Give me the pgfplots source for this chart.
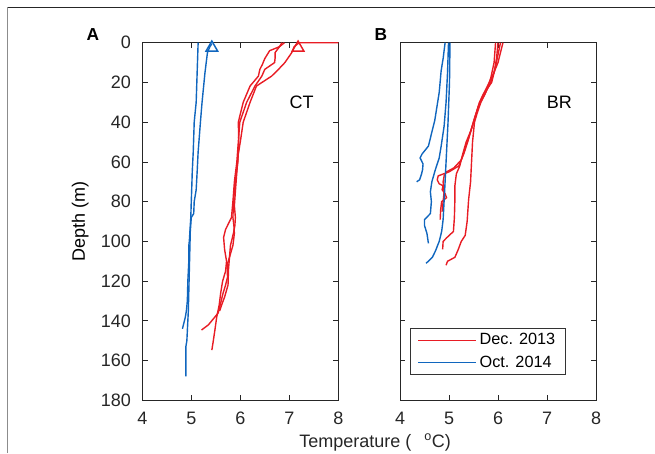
\documentclass[border=0pt]{standalone}
\usepackage{pgfplots}
\pgfplotsset{compat=1.18}
\usepackage{fontspec}
\setmainfont{Liberation Sans}
\setsansfont{Liberation Sans}
\definecolor{pred}{RGB}{232,28,36}
\definecolor{pblue}{RGB}{16,102,190}
\pgfplotsset{myax/.style={
  scale only axis, width=147pt, height=268.2pt,
  xmin=4, xmax=8, ymin=0, ymax=180, y dir=reverse,
  xtick={4,5,6,7,8}, ytick={0,20,...,180},
  xtick pos=both, ytick pos=both, ticklabel pos=left,
  tick align=inside, major tick length=4pt,
  axis line style={black!85, line width=0.6pt},
  every tick/.style={black!85, line width=0.6pt},
  tick label style={font=\fontsize{13.5}{16}\selectfont, text=black!85},
  /pgf/number format/assume math mode=true,
  xticklabel style={yshift=-5.5pt},
  yticklabel style={xshift=-5pt},
  clip mode=individual,
  every axis plot/.append style={line width=1.05pt},
}}
\begin{document}
\begin{tikzpicture}
\path[use as bounding box] (0,0) rectangle (491.25pt,339.75pt);
\draw[black!85, line width=0.7pt] (5.8pt,334.3pt) -- (491.25pt,334.3pt);
\draw[black!45, line width=0.8pt] (5.8pt,0pt) -- (5.8pt,334.3pt);
% Panel A
\begin{axis}[myax, at={(106.7pt,39.5pt)}, anchor=south west]
\addplot[pblue] coordinates {(5.42,0.5) (5.38,2) (5.33,5) (5.28,15) (5.22,30) (5.19,39) (5.14,55) (5.12,65) (5.10,74) (5.06,80) (5.05,86) (5.0,88) (4.98,95) (4.97,105) (4.96,115) (4.95,125) (4.94,135) (4.93,140) (4.91,150) (4.89,153) (4.89,160) (4.89,168)};
\addplot[pblue] coordinates {(5.14,0) (5.12,15) (5.10,30) (5.06,40) (5.04,55) (5.02,65) (5.01,73) (5.0,80) (4.99,88) (4.98,92) (4.96,100) (4.95,102) (4.95,110) (4.93,120) (4.92,130) (4.90,135) (4.88,138) (4.85,141) (4.82,144)};
\addplot[pred] coordinates {(8,0) (7.2,0) (7.1,2) (7.05,5) (6.91,10) (6.78,13.4) (6.64,16.8) (6.33,21.8) (6.2,30) (6.06,40) (6.0,50) (5.96,56) (5.93,65) (5.9,75) (5.88,82) (5.9,88) (5.89,92) (5.86,96) (5.8,102) (5.78,108) (5.73,112) (5.74,118) (5.7,122) (5.65,126) (5.6,131) (5.55,136) (5.45,139) (5.35,142) (5.21,144.6)};
\addplot[pred] coordinates {(6.9,0) (6.8,2) (6.71,5) (6.71,8) (6.7,10) (6.5,13.4) (6.44,16.8) (6.3,21.8) (6.13,30) (5.99,40) (5.96,50) (5.93,60) (5.88,70) (5.85,80) (5.82,88) (5.7,94) (5.66,98) (5.68,104) (5.72,110) (5.7,115) (5.64,120) (5.6,126) (5.57,132) (5.52,138) (5.48,145) (5.45,150) (5.42,154.7)};
\addplot[pred] coordinates {(6.85,0) (6.8,2) (6.6,4) (6.5,8) (6.45,11) (6.4,13.4) (6.37,16.8) (6.2,21.8) (6.06,30) (5.96,40) (5.97,50) (5.95,60) (5.9,70) (5.86,80) (5.85,88) (5.87,92) (5.88,96) (5.85,102) (5.78,108) (5.76,114) (5.75,122) (5.68,128) (5.62,132) (5.58,135)};
\addplot[pblue, only marks, mark=triangle, mark size=5pt, mark options={line width=1.1pt}] coordinates {(5.42,2.5)};
\addplot[pred, only marks, mark=triangle, mark size=5pt, mark options={line width=1.1pt}] coordinates {(7.18,2.5)};
\node[font=\fontsize{13.5}{16}\selectfont] at (axis cs:7.25,30) {CT};
\node[rotate=90, anchor=base, font=\fontsize{13.5}{16}\selectfont] at (rel axis cs:-0.293,0.5) {Depth (m)};
\end{axis}
% Panel B
\begin{axis}[myax, at={(300pt,39.5pt)}, anchor=south west, yticklabels={},
  legend style={at={(0.05,0.0716)}, anchor=south west, draw=black!80, line width=0.6pt,
    font=\fontsize{12.2}{14}\selectfont, inner xsep=5.5pt, inner ysep=2pt, row sep=2.5pt,
    nodes={inner sep=2pt}},
  legend cell align=left,
  legend image code/.code={\draw[#1, line width=1.05pt] (0pt,0pt) -- (43.5pt,0pt);}]
\addplot[pred] coordinates {(6.1,0) (6.05,5) (6.0,10) (5.9,16) (5.85,20) (5.75,25) (5.65,30) (5.58,35) (5.52,40) (5.48,50) (5.46,60) (5.44,70) (5.40,79) (5.37,90) (5.33,97) (5.25,100) (5.19,104) (5.12,108) (4.97,110) (4.94,112)};
\addlegendentry{Dec. 2013}
\addplot[pblue] coordinates {(4.92,0) (4.88,8) (4.84,14) (4.80,25) (4.71,39) (4.62,48) (4.58,52) (4.45,56) (4.41,58) (4.47,61) (4.46,64) (4.44,66) (4.40,69) (4.34,70)};
\addlegendentry{Oct. 2014}
\addplot[pred, forget plot] coordinates {(6.05,0) (6.0,6) (5.95,12) (5.87,20) (5.7,26) (5.6,32) (5.52,38) (5.45,44) (5.35,50) (5.28,56) (5.22,62) (5.15,66) (5.12,72) (5.12,79) (5.11,88) (5.09,95) (4.96,98) (4.88,100) (4.87,104)};
\addplot[pred, forget plot] coordinates {(6.0,0) (5.97,8) (5.92,15) (5.82,20) (5.62,30) (5.55,36) (5.45,44) (5.38,50) (5.3,56) (5.2,62) (5.0,65) (4.78,67) (4.76,69) (4.80,71) (4.88,72) (4.86,74) (4.92,76) (4.95,78) (4.85,80) (4.83,84) (4.82,89)};
\addplot[pred, forget plot] coordinates {(5.95,0) (5.92,10) (5.85,18) (5.75,25) (5.6,32) (5.5,40) (5.4,48) (5.32,54) (5.25,59) (5.1,63) (4.95,65) (4.9,67) (4.88,70) (4.9,75) (4.88,80) (4.86,85)};
\addplot[pblue, forget plot] coordinates {(4.99,0) (4.97,15) (4.94,30) (4.90,42) (4.84,52) (4.80,58) (4.72,64) (4.65,70) (4.62,75) (4.64,80) (4.62,86) (4.50,89) (4.50,92) (4.55,96) (4.58,101)};
\addplot[pblue, forget plot] coordinates {(5.02,0) (5.01,20) (4.98,40) (4.94,60) (4.91,75) (4.88,89) (4.85,95) (4.80,100) (4.72,105) (4.66,108) (4.58,110) (4.53,111)};
\node[font=\fontsize{13.5}{16}\selectfont] at (axis cs:7.25,30) {BR};
\end{axis}
\node[font=\fontsize{13}{15}\selectfont\bfseries] at (69.75pt,313.5pt) {A};
\node[font=\fontsize{13}{15}\selectfont\bfseries] at (285.75pt,313.5pt) {B};
\node[anchor=base west, inner sep=0pt, font=\fontsize{13.5}{16}\selectfont, text=black!85] at (224.25pt,4.3pt) {Temperature ( \hspace{6pt}\textsuperscript{o}C)};
\end{tikzpicture}
\end{document}
